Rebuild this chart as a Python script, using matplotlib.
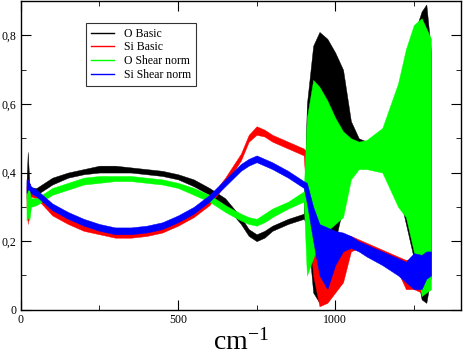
import matplotlib
matplotlib.use('Agg')
import matplotlib.pyplot as plt
from matplotlib.ticker import MultipleLocator, FuncFormatter

plt.rcParams['font.family'] = ['Liberation Serif', 'DejaVu Serif']
plt.rcParams['mathtext.default'] = 'regular'

# wavenumber grid (cm^-1) at which the envelope of each noisy spectrum was read
wavenumber = [18, 22, 27, 32, 50, 100, 150, 200, 250, 300, 350, 400, 450, 500,
              550, 600, 650, 700, 725, 750, 775, 800, 850, 900, 910, 930, 950, 975, 1000,
              1025, 1050, 1075, 1100, 1150, 1200, 1225, 1250, 1275, 1290, 1305]

# lower / upper envelope of each series
o_basic_lo = [0.33, 0.26, 0.33, 0.335, 0.335, 0.365, 0.385, 0.395, 0.40, 0.40, 0.40, 0.395, 0.39, 0.38,
              0.36, 0.335, 0.305, 0.25, 0.215, 0.20, 0.21, 0.23, 0.25, 0.265, 0.25, 0.05, 0.02, 0.05, 0.20,
              0.30, 0.40, 0.43, 0.44, 0.42, 0.35, 0.25, 0.15, 0.03, 0.02, 0.10]
o_basic_hi = [0.37, 0.46, 0.37, 0.355, 0.355, 0.385, 0.40, 0.41, 0.42, 0.42, 0.415, 0.41, 0.405, 0.395,
              0.38, 0.355, 0.325, 0.27, 0.235, 0.22, 0.23, 0.245, 0.265, 0.28, 0.60, 0.77, 0.81, 0.79, 0.75,
              0.70, 0.55, 0.50, 0.49, 0.50, 0.60, 0.70, 0.80, 0.87, 0.89, 0.75]

si_basic_lo = [0.30, 0.25, 0.32, 0.33, 0.325, 0.275, 0.25, 0.23, 0.22, 0.21, 0.21, 0.215, 0.225, 0.245,
               0.27, 0.305, 0.365, 0.435, 0.49, 0.51, 0.505, 0.49, 0.47, 0.45, 0.30, 0.10, 0.01, 0.02, 0.05,
               0.08, 0.17, 0.18, 0.17, 0.15, 0.11, 0.06, 0.06, 0.05, 0.08, 0.11]
si_basic_hi = [0.36, 0.38, 0.37, 0.355, 0.34, 0.295, 0.27, 0.25, 0.24, 0.23, 0.23, 0.235, 0.245, 0.265,
               0.29, 0.325, 0.385, 0.455, 0.51, 0.535, 0.525, 0.51, 0.49, 0.47, 0.46, 0.27, 0.25, 0.23, 0.225,
               0.22, 0.215, 0.205, 0.195, 0.175, 0.155, 0.145, 0.15, 0.165, 0.175, 0.175]

o_shear_lo = [0.26, 0.27, 0.26, 0.30, 0.305, 0.335, 0.35, 0.365, 0.37, 0.375, 0.375, 0.37, 0.365, 0.355,
              0.335, 0.315, 0.285, 0.26, 0.25, 0.245, 0.255, 0.27, 0.295, 0.315, 0.10, 0.15, 0.20, 0.23, 0.25,
              0.27, 0.38, 0.41, 0.41, 0.40, 0.30, 0.27, 0.17, 0.04, 0.05, 0.06]
o_shear_hi = [0.34, 0.36, 0.35, 0.325, 0.325, 0.355, 0.37, 0.385, 0.39, 0.39, 0.39, 0.385, 0.38, 0.37,
              0.355, 0.335, 0.305, 0.28, 0.27, 0.265, 0.28, 0.295, 0.315, 0.345, 0.56, 0.67, 0.65, 0.61, 0.56,
              0.52, 0.50, 0.49, 0.495, 0.53, 0.66, 0.76, 0.83, 0.85, 0.82, 0.79]

si_shear_lo = [0.34, 0.35, 0.35, 0.34, 0.33, 0.29, 0.265, 0.245, 0.23, 0.22, 0.22, 0.225, 0.235, 0.255,
               0.28, 0.315, 0.36, 0.405, 0.42, 0.43, 0.42, 0.41, 0.385, 0.355, 0.31, 0.20, 0.10, 0.06, 0.13,
               0.17, 0.18, 0.17, 0.155, 0.13, 0.10, 0.08, 0.06, 0.06, 0.09, 0.10]
si_shear_hi = [0.38, 0.38, 0.37, 0.36, 0.35, 0.31, 0.285, 0.265, 0.25, 0.24, 0.24, 0.245, 0.255, 0.275,
               0.30, 0.335, 0.38, 0.425, 0.44, 0.45, 0.44, 0.43, 0.405, 0.375, 0.37, 0.30, 0.25, 0.24, 0.23,
               0.225, 0.215, 0.20, 0.19, 0.17, 0.15, 0.14, 0.165, 0.16, 0.17, 0.17]

series = [
    ('O Basic', o_basic_lo, o_basic_hi, 'black'),
    ('Si Basic', si_basic_lo, si_basic_hi, 'red'),
    ('O Shear norm', o_shear_lo, o_shear_hi, '#00ff00'),
    ('Si Shear norm', si_shear_lo, si_shear_hi, 'blue'),
]

fig = plt.figure(figsize=(4.63, 3.56), dpi=100)
ax = fig.add_axes([0.045, 0.130, 0.9505, 0.867])

for name, lo, hi, col in series:
    ax.fill_between(wavenumber, lo, hi, color=col, lw=0.3, edgecolor=col)
    ax.plot([], [], color=col, lw=1, label=name)

ax.set_xlim(0, 1400)
ax.set_ylim(0, 0.9)
ax.xaxis.set_major_locator(MultipleLocator(500))
ax.xaxis.set_minor_locator(MultipleLocator(250))
ax.yaxis.set_major_locator(MultipleLocator(0.2))
ax.yaxis.set_minor_locator(MultipleLocator(0.1))
ax.yaxis.set_major_formatter(FuncFormatter(lambda v, p: '0' if abs(v) < 1e-9 else ('%.1f' % v).replace('.', ',')))
ax.tick_params(which='both', direction='in', top=True, right=True, labelsize=8.5, pad=3)
ax.tick_params(which='major', length=7)
ax.tick_params(which='minor', length=3.5)
for sp in ax.spines.values():
    sp.set_linewidth(1)

ax.set_xlabel('cm$^{-1}$', fontsize=20, labelpad=2)

leg = ax.legend(loc='upper left', bbox_to_anchor=(0.148, 0.929), fontsize=8.5,
                frameon=True, fancybox=False, handlelength=2.0, handletextpad=0.8,
                labelspacing=0.15, borderpad=0.4, borderaxespad=0)
leg.get_frame().set_edgecolor('black')
leg.get_frame().set_linewidth(0.8)

fig.savefig('out.png', dpi=100)
